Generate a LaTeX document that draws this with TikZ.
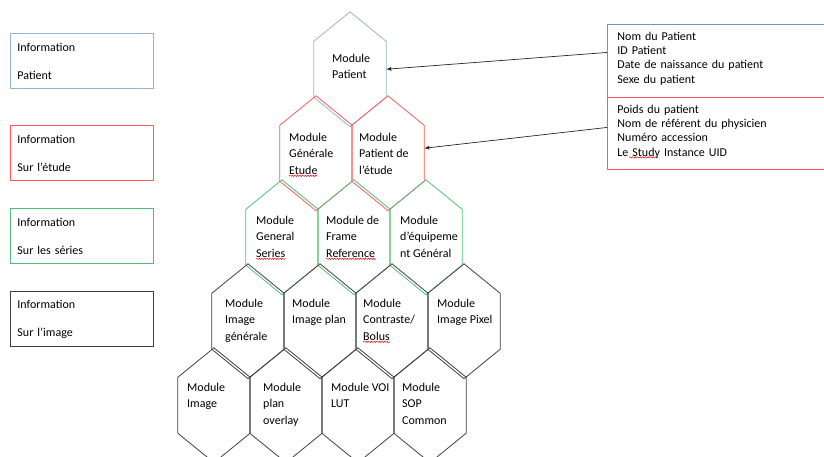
\documentclass[tikz,border=0pt]{standalone}
\usepackage{fontspec}
\setmainfont{Carlito}
\usetikzlibrary{arrows.meta,positioning,calc,decorations.pathmorphing}

\definecolor{hexblue}{RGB}{149,179,215}
\definecolor{hexred}{RGB}{255,90,90}
\definecolor{hexgreen}{RGB}{80,190,120}
\definecolor{hexgray}{RGB}{64,64,64}
\definecolor{infoblue}{RGB}{91,155,213}

\begin{document}
\begin{tikzpicture}[x=1pt, y=-1pt,
    hexcell/.style={minimum width=72pt, minimum height=55.5pt, inner sep=0pt},
    modtext/.style={anchor=north west, align=left, inner sep=0pt, font=\fontsize{12}{16.5}\selectfont},
    legend/.style={draw, line width=0.9pt, anchor=north west, minimum width=143pt, minimum height=55pt, inner xsep=7pt, inner ysep=0pt, text width=129pt, align=left, font=\fontsize{12}{14.5}\selectfont},
    infobox/.style={draw, line width=0.9pt, anchor=north west, inner xsep=10pt, inner ysep=0pt, text width=220pt, align=left, font=\fontsize{12}{14.3}\selectfont},
    link/.style={-{Latex[length=5pt,width=4pt]}, line width=0.7pt, black!85},
    spellmark/.style={red!85!black, line width=0.45pt, decorate, decoration={snake, amplitude=0.7pt, segment length=2.6pt}},
  ]
  \clip (0,0) rectangle (824,457);

  % Hexagon bodies
  \node[hexcell] (hpat) at (350,69.25) {};
  \node[hexcell] (hgen) at (316,153.25) {};
  \node[hexcell] (hpet) at (388,153.25) {};
  \node[hexcell] (hser) at (282,237.25) {};
  \node[hexcell] (hfra) at (354,237.25) {};
  \node[hexcell] (hequ) at (426,237.25) {};
  \node[hexcell] (himg) at (248,321.25) {};
  \node[hexcell] (hpla) at (320,321.25) {};
  \node[hexcell] (hcon) at (392,321.25) {};
  \node[hexcell] (hpix) at (464,321.25) {};
  \node[hexcell] (hima) at (214,405.25) {};
  \node[hexcell] (hovl) at (286,405.25) {};
  \node[hexcell] (hvoi) at (358,405.25) {};
  \node[hexcell] (hsop) at (430,405.25) {};

  % Hexagon outlines
  \foreach \h/\col in {hpat/hexblue, hgen/hexred, hpet/hexred, hser/hexgreen, hfra/hexgreen, hequ/hexgreen,
      himg/hexgray, hpla/hexgray, hcon/hexgray, hpix/hexgray, hima/hexgray, hovl/hexgray, hvoi/hexgray, hsop/hexgray}
    \draw[color=\col, line width=0.8pt, line join=round] (\h.north west) -- ($(\h.north)+(0,-29.5)$) -- (\h.north east)
      -- (\h.south east) -- ($(\h.south)+(0,29.5)$) -- (\h.south west) -- cycle;

  % Module texts
  \node[modtext] (tpat) at (332,53.5) {Module\\Patient};
  \node[modtext] (tgen) at (289,132.5) {Module\\Générale\\Etude};
  \node[modtext] (tpet) at (359,132.5) {Module\\Patient de\\l’étude};
  \node[modtext] (tser) at (256,215.5) {Module\\General\\Series};
  \node[modtext] (tfra) at (326,215.5) {Module de\\Frame\\Reference};
  \node[modtext] (tequ) at (400,215.5) {Module\\d’équipeme\\nt Général};
  \node[modtext] (timg) at (225,298.5) {Module\\Image\\générale};
  \node[modtext] (tpla) at (292,298.5) {Module\\Image plan};
  \node[modtext] (tcon) at (363,298.5) {Module\\Contraste/\\Bolus};
  \node[modtext] (tpix) at (437,298.5) {Module\\Image Pixel};
  \node[modtext] (tima) at (187,382.5) {Module\\Image};
  \node[modtext] (tovl) at (263,382.5) {Module\\plan\\overlay};
  \node[modtext] (tvoi) at (331,382.5) {Module VOI\\LUT};
  \node[modtext] (tsop) at (402,382.5) {Module\\SOP\\Common};

  % Legend
  \node[legend, draw=hexblue]  (lpat) at (10,33)  {Information\\[13.5pt]Patient};
  \node[legend, draw=hexred]   (letu) at (10,125) {Information\\[13.5pt]Sur l’étude};
  \node[legend, draw=hexgreen] (lser) at (10,208) {Information\\[13.5pt]Sur les séries};
  \node[legend, draw=hexgray]  (limg) at (10,291) {Information\\[13.5pt]Sur l’image};

  % Attribute boxes
  \node[infobox, draw=infoblue, minimum height=73pt] (patinfo) at (607,24)
    {Nom du Patient\\ID Patient\\Date de naissance du patient\\Sexe du patient\rule[-7pt]{0pt}{0pt}};
  \node[infobox, draw=hexred, minimum height=72pt] (etuinfo) at (607,97)
    {Poids du patient\\Nom de référent du physicien\\Numéro accession\\Le Study Instance UID\rule[-6pt]{0pt}{0pt}};

  % Links
  \draw[link] ([yshift=8.5pt]patinfo.west) -- (hpat.east);
  \draw[link] ([yshift=6pt]etuinfo.west) -- ([yshift=5pt]hpet.east);

  % Spell-check marks
  \draw[spellmark] ([yshift=-1.5pt]tgen.south west) -- ++(28,0);
  \draw[spellmark] ([yshift=-1.5pt]tser.south west) -- ++(30,0);
  \draw[spellmark] ([yshift=-1.5pt]tfra.south west) -- ++(50,0);
  \draw[spellmark] ([yshift=-1.5pt]tcon.south west) -- ++(27,0);
  \draw[spellmark] ([shift={(22,-12.5)}]etuinfo.south west) -- ++(29,0);
\end{tikzpicture}
\end{document}
